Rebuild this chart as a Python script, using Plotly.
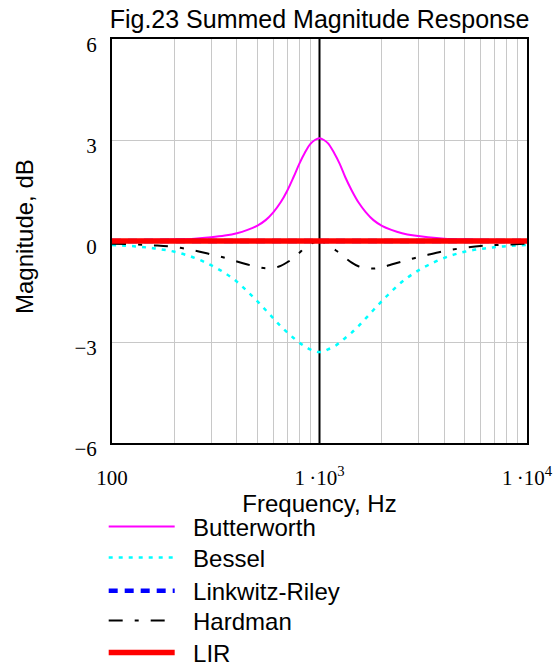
import plotly.graph_objects as go

# ---------------- data ----------------
freq_hz = [100, 130, 160, 200, 250, 300, 350, 400, 450, 500, 550, 600, 650, 700,
           750, 800, 850, 900, 950, 1000, 1050, 1100, 1180, 1250, 1330, 1430,
           1540, 1670, 1820, 2000, 2220, 2500, 2860, 3330, 4000, 5000, 6250,
           7700, 10000]

butterworth_db = [0.02, 0.03, 0.04, 0.05, 0.07, 0.11, 0.16, 0.23, 0.33, 0.45,
                  0.62, 0.86, 1.15, 1.5, 1.9, 2.3, 2.62, 2.87, 3.0, 3.05,
                  3.0, 2.9, 2.6, 2.3, 1.9, 1.5, 1.15, 0.86, 0.62, 0.45, 0.33,
                  0.23, 0.16, 0.11, 0.07, 0.05, 0.04, 0.03, 0.02]

bessel_db = [-0.12, -0.16, -0.22, -0.32, -0.5, -0.72, -0.95, -1.21, -1.5, -1.78,
             -2.05, -2.3, -2.53, -2.72, -2.88, -3.02, -3.13, -3.22, -3.28, -3.3,
             -3.28, -3.22, -3.13, -3.02, -2.88, -2.72, -2.53, -2.3, -2.05, -1.78,
             -1.5, -1.21, -0.95, -0.72, -0.5, -0.32, -0.22, -0.16, -0.12]

linkwitz_riley_db = [0.0, 0.0, 0.0, 0.0, 0.0, 0.0, 0.0, 0.0, 0.0, 0.0,
                     0.0, 0.0, 0.0, 0.0, 0.0, 0.0, 0.0, 0.0, 0.0, 0.0,
                     0.0, 0.0, 0.0, 0.0, 0.0, 0.0, 0.0, 0.0, 0.0, 0.0,
                     0.0, 0.0, 0.0, 0.0, 0.0, 0.0, 0.0, 0.0, 0.0]

hardman_db = [-0.08, -0.1, -0.13, -0.18, -0.28, -0.4, -0.5, -0.61, -0.7, -0.77,
              -0.81, -0.8, -0.74, -0.63, -0.5, -0.35, -0.2, -0.1, -0.03, 0.0,
              -0.04, -0.12, -0.25, -0.36, -0.5, -0.64, -0.75, -0.8, -0.82, -0.78,
              -0.7, -0.61, -0.51, -0.41, -0.3, -0.2, -0.14, -0.11, -0.08]

lir_db = [0.0, 0.0, 0.0, 0.0, 0.0, 0.0, 0.0, 0.0, 0.0, 0.0,
          0.0, 0.0, 0.0, 0.0, 0.0, 0.0, 0.0, 0.0, 0.0, 0.0,
          0.0, 0.0, 0.0, 0.0, 0.0, 0.0, 0.0, 0.0, 0.0, 0.0,
          0.0, 0.0, 0.0, 0.0, 0.0, 0.0, 0.0, 0.0, 0.0]

marker_freq = [1000, 1000]
marker_db = [-6, 6]

series_names = ["Butterworth", "Bessel", "Linkwitz-Riley", "Hardman", "LIR"]

x_tickvals = [100, 200, 300, 400, 500, 600, 700, 800, 900,
              1000, 2000, 3000, 4000, 5000, 6000, 7000, 8000, 9000, 10000]
x_ticktext = ["100", "", "", "", "", "", "", "", "",
              "1\u2009\u00b710<sup>3</sup>", "", "", "", "", "", "", "", "",
              "1\u2009\u00b710<sup>4</sup>"]
y_tickvals = [-6, -3, 0, 3, 6]
y_ticktext = ["\u22126", "\u22123", "0", "3", "6"]

# ---------------- figure ----------------
SANS = "Liberation Sans, Arial, sans-serif"
SERIF = "Liberation Serif, Times New Roman, serif"
PAD = "\u00a0\u00a0"

styles = [
    dict(color="#FF00FF", width=2, shape="spline"),
    dict(color="#00FFFF", width=2.5, dash="4px,6px", shape="spline"),
    dict(color="#0000FF", width=4.5, dash="9px,7px"),
    dict(color="black", width=2, dash="14px,12px,4px,12px", shape="spline"),
    dict(color="#FF0000", width=5.5),
]
series_values = [butterworth_db, bessel_db, linkwitz_riley_db, hardman_db, lir_db]
legend_ids = ["legend", "legend2", "legend3", "legend4", "legend5"]
legend_y = [0.2099, 0.1634, 0.1139, 0.0690, 0.0210]

fig = go.Figure()

fig.add_trace(go.Scatter(x=marker_freq, y=marker_db, mode="lines",
                         line=dict(color="black", width=2),
                         showlegend=False, hoverinfo="skip"))

for name, vals, st, lid in zip(series_names, series_values, styles, legend_ids):
    fig.add_trace(go.Scatter(x=freq_hz, y=vals, mode="lines", name=PAD + name,
                             line=st, legend=lid))

legend_common = dict(x=0.1855, xanchor="left", yanchor="middle",
                     xref="container", yref="container",
                     font=dict(family=SANS, size=24, color="black"),
                     itemwidth=66, bgcolor="rgba(0,0,0,0)")

fig.update_layout(
    width=559, height=667,
    margin=dict(l=112, r=32, t=39, b=224, autoexpand=False),
    paper_bgcolor="white", plot_bgcolor="white",
    title=dict(text="Fig.23 Summed Magnitude Response", x=0.5716, xanchor="center",
               y=0.9708, yanchor="middle", font=dict(family=SANS, size=25, color="black")),
    showlegend=True,
    font=dict(family=SANS, color="black"),
    annotations=[dict(text="Magnitude, dB", xref="paper", yref="paper",
                      x=-0.2096, y=0.51, xanchor="center", yanchor="middle",
                      textangle=-90, showarrow=False,
                      font=dict(family=SANS, size=24, color="black"))],
)
for lid, ly in zip(legend_ids, legend_y):
    fig.update_layout({lid: dict(legend_common, y=ly)})

fig.update_xaxes(
    type="log", range=[2, 4], automargin=False,
    tickmode="array", tickvals=x_tickvals, ticktext=x_ticktext,
    tickfont=dict(family=SERIF, size=21, color="black"),
    ticks="", ticklabelstandoff=15,
    showgrid=True, gridcolor="#C8C8C8", gridwidth=1,
    showline=True, linecolor="black", linewidth=2, mirror=True,
    zeroline=False,
    title=dict(text="Frequency, Hz", font=dict(family=SANS, size=24, color="black"), standoff=0),
)
fig.update_yaxes(
    range=[-6, 6], automargin=False,
    tickmode="array", tickvals=y_tickvals, ticktext=y_ticktext,
    tickfont=dict(family=SERIF, size=21, color="black"),
    ticks="", ticklabelstandoff=9, ticklabelshift=6,
    showgrid=True, gridcolor="#C8C8C8", gridwidth=1,
    showline=True, linecolor="black", linewidth=2, mirror=True,
    zeroline=False,
)

fig.write_html("out.html")
